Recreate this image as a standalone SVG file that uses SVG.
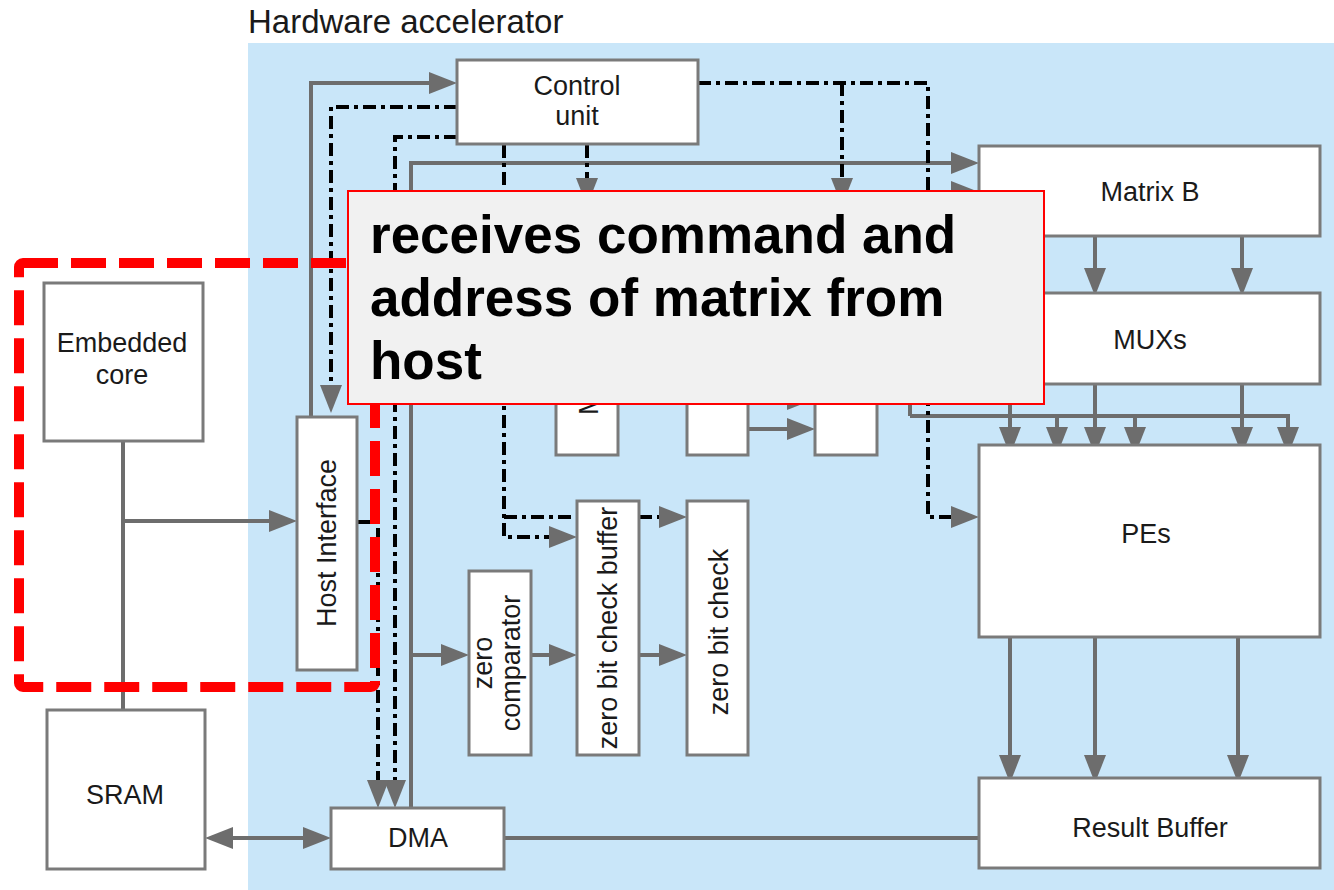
<svg xmlns="http://www.w3.org/2000/svg" width="1334" height="890" viewBox="0 0 1334 890">
<defs>
<style>
.bg{fill:#c9e6f9}
.box{fill:#fff;stroke:#7a7a7a;stroke-width:3}
.t{font-family:"Liberation Sans",Arial,sans-serif;font-size:27px;fill:#1a1a1a}
.tm{text-anchor:middle}
.g{fill:none;stroke:#6d6d6d;stroke-width:4}
.d{fill:none;stroke:#000;stroke-width:4;stroke-dasharray:13 5 4 5}
.ar{marker-end:url(#ah)}
.red{fill:none;stroke:#ff0000;stroke-width:10;stroke-dasharray:35 13}
.callout{fill:#f1f1f1;stroke:#ff0000;stroke-width:2}
.ct{font-family:"Liberation Sans",Arial,sans-serif;font-size:53px;font-weight:bold;fill:#000}
</style>
<marker id="ah" markerUnits="userSpaceOnUse" markerWidth="28" markerHeight="22" viewBox="0 0 28 22" refX="20" refY="11" orient="auto-start-reverse">
<path d="M0,0 L28,11 L0,22 z" fill="#6d6d6d"/>
</marker>
</defs>
<rect class="bg" x="248" y="43" width="1086" height="847"/>
<text class="t" x="248" y="33" style="font-size:33px">Hardware accelerator</text>

<g id="connectors">
<path class="g ar" d="M311,417 V83 H449"/>
<path class="g" d="M123,441 V710"/>
<path class="g ar" d="M123,521 H289"/>
<path class="g ar" d="M213,838 H323" marker-start="url(#ah)"/>
<path class="g" d="M504,838 H979"/>
<path class="g ar" d="M411,808 V163 H971"/>
<path class="g ar" d="M411,655 H461"/>
<path class="g ar" d="M531,655 H569"/>
<path class="g ar" d="M639,655 H679"/>
<path class="g ar" d="M1095,236 V288"/>
<path class="g ar" d="M1242,236 V288"/>
<path class="g ar" d="M910,416 V192 H971"/>
<path class="g ar" d="M910,416 H1288 V447"/>
<path class="g ar" d="M1057,416 V447"/>
<path class="g ar" d="M1135,416 V447"/>
<path class="g ar" d="M1010,300 V447"/>
<path class="g ar" d="M1095,384 V447"/>
<path class="g ar" d="M1242,384 V447"/>
<path class="g ar" d="M1010,637 V775"/>
<path class="g ar" d="M1095,637 V775"/>
<path class="g ar" d="M1238,637 V775"/>
<path class="g ar" d="M748,429 H807"/>
<path class="g ar" d="M748,399 H807"/>
<path class="d ar" d="M457,107 H331 V405"/>
<path class="d ar" d="M457,137 H395 V800"/>
<path class="d ar" d="M357,522 H378 V800"/>
<path class="d ar" d="M504,145 V537 H569"/>
<path class="d ar" d="M504,517 H679"/>
<path class="d ar" d="M587,145 V198"/>
<path class="d ar" d="M698,83 H928 V517 H971"/>
<path class="d ar" d="M842,83 V198"/>
</g>

<g id="control-unit"><rect class="box" x="457" y="60" width="241" height="84"/><text class="t tm" x="577" y="95">Control</text><text class="t tm" x="577" y="125">unit</text></g>
<g id="matrix-b"><rect class="box" x="979" y="146" width="341" height="90"/><text class="t tm" x="1150" y="201">Matrix B</text></g>
<g id="muxs"><rect class="box" x="979" y="293" width="341" height="91"/><text class="t tm" x="1150" y="349">MUXs</text></g>
<g id="pes"><rect class="box" x="979" y="445" width="341" height="192"/><text class="t tm" x="1146" y="543">PEs</text></g>
<g id="result-buffer"><rect class="box" x="979" y="778" width="341" height="90"/><text class="t tm" x="1150" y="837">Result Buffer</text></g>
<g id="embedded-core"><rect class="box" x="44" y="283" width="159" height="158"/><text class="t tm" x="122" y="352">Embedded</text><text class="t tm" x="122" y="384">core</text></g>
<g id="sram"><rect class="box" x="47" y="710" width="158" height="159"/><text class="t tm" x="125" y="804">SRAM</text></g>
<g id="dma"><rect class="box" x="331" y="808" width="173" height="61"/><text class="t tm" x="418" y="847">DMA</text></g>
<g id="host-interface"><rect class="box" x="297" y="417" width="60" height="253"/><text class="t tm" transform="translate(336,543) rotate(-90)">Host Interface</text></g>
<g id="zero-comparator"><rect class="box" x="469" y="571" width="62" height="184"/><text class="t tm" transform="translate(492,663) rotate(-90)">zero</text><text class="t tm" transform="translate(520,663) rotate(-90)">comparator</text></g>
<g id="zero-bit-check-buffer"><rect class="box" x="577" y="501" width="62" height="254"/><text class="t tm" transform="translate(617,628) rotate(-90)">zero bit check buffer</text></g>
<g id="zero-bit-check"><rect class="box" x="687" y="501" width="61" height="254"/><text class="t tm" transform="translate(728,632) rotate(-90)">zero bit check</text></g>
<g id="box-m"><rect class="box" x="556" y="350" width="62" height="105"/><text class="t" transform="translate(598,415) rotate(-90)">M</text></g>
<g id="box-2"><rect class="box" x="687" y="350" width="61" height="105"/></g>
<g id="box-3"><rect class="box" x="815" y="350" width="62" height="105"/></g>

<g id="highlight"><rect class="red" x="19" y="263" width="356" height="424" rx="4"/></g>
<g id="callout"><rect class="callout" x="348" y="191" width="696" height="213"/>
<text class="ct" x="370" y="253">receives command and</text>
<text class="ct" x="370" y="316">address of matrix from</text>
<text class="ct" x="370" y="379">host</text></g>
</svg>
